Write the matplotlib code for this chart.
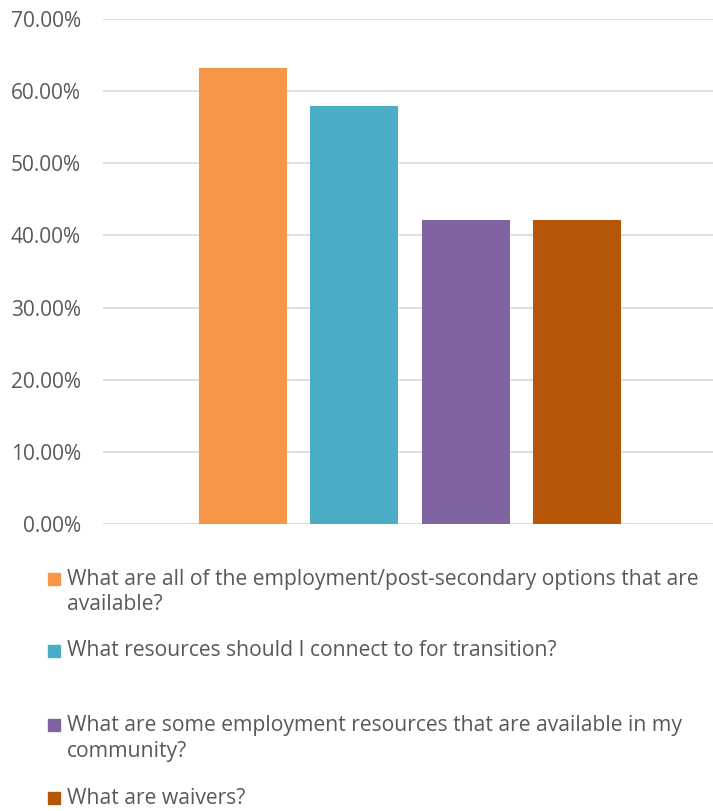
import matplotlib.pyplot as plt
from matplotlib.patches import Rectangle

# Data
labels = [
    "What are all of the employment/post-secondary options that are\navailable?",
    "What resources should I connect to for transition?",
    "What are some employment resources that are available in my\ncommunity?",
    "What are waivers?",
]
values = [0.6316, 0.5789, 0.4211, 0.4211]
colors = ["#F79646", "#4BACC6", "#8064A2", "#B65708"]
yticks = [0, 0.1, 0.2, 0.3, 0.4, 0.5, 0.6, 0.7]

plt.rcParams['font.family'] = ['Open Sans', 'DejaVu Sans']
text_col = "#595959"

W, H = 713, 811
fig = plt.figure(figsize=(W / 100, H / 100), dpi=100)
ax = fig.add_axes([103 / W, 1 - 524 / H, (713 - 103) / W, (524 - 19) / H])

x = list(range(len(values)))
ax.bar(x, values, width=0.79, color=colors, zorder=3)
ax.set_xlim(-1.256, 4.22)
ax.set_ylim(0, 0.70)
ax.set_yticks(yticks)
ax.set_yticklabels([f"{v * 100:.2f}%" for v in yticks], fontsize=15, color=text_col)
ax.tick_params(axis='y', length=0, pad=16)
ax.set_xticks([])
ax.grid(axis='y', color="#D9D9D9", linewidth=1.2, zorder=0)
for s in ax.spines.values():
    s.set_visible(False)

# legend laid out as in the original (one row per entry, square marker)
row_y = [579, 651, 725, 798]
for lab, col, ry in zip(labels, colors, row_y):
    fig.add_artist(Rectangle((48 / W, 1 - (ry + 6) / H), 12 / W, 12 / H,
                             transform=fig.transFigure, color=col))
    for i, line in enumerate(lab.split("\n")):
        fig.text(67 / W, 1 - (ry + 26 * i) / H, line, fontsize=15.2,
                 color=text_col, va='center', ha='left')

fig.savefig("out.png", dpi=100)
